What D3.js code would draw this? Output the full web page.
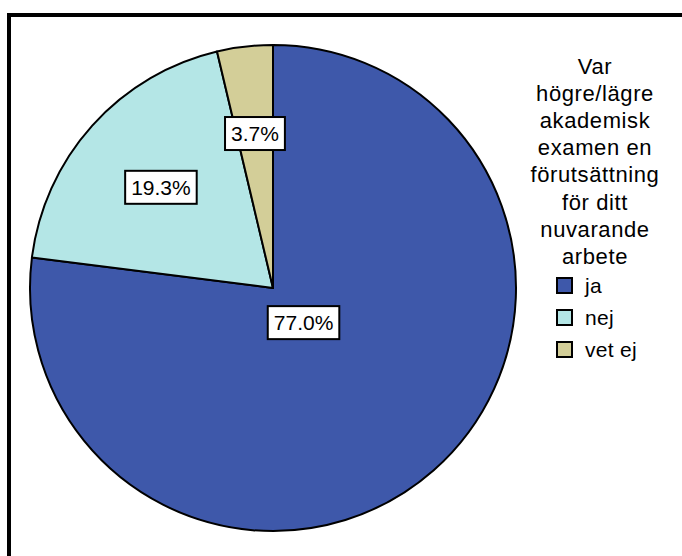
<!DOCTYPE html>
<html>
<head>
<meta charset="utf-8">
<script src="https://cdn.jsdelivr.net/npm/d3@7"></script>
<style>
  body { margin: 0; background: #fff; }
  text { font-family: "Liberation Sans", Arial, sans-serif; fill: #000; }
</style>
</head>
<body>
<div id="chart"></div>
<script>
// Data
var categories = ["ja", "nej", "vet ej"];
var percents = [77.0, 19.3, 3.7];
var colors = ["#3e58aa", "#b4e6e6", "#d3ce98"];
var legendTitle = ["Var", "högre/lägre", "akademisk", "examen en", "förutsättning", "för ditt", "nuvarande", "arbete"];

// Canvas
var svgWidth = 682;
var svgHeight = 556;
var svg = d3.select("#chart").append("svg").attr("width", svgWidth).attr("height", svgHeight);

// Frame (only top and left show in the window)
svg.append("rect")
    .attr("x", 9).attr("y", 15)
    .attr("width", 800).attr("height", 800)
    .attr("fill", "none").attr("stroke", "#000").attr("stroke-width", 4);

// Pie
var cx = 273, cy = 288, radius = 243;
var labelRadius = [0.19, 0.62, 0.64];

var pie = d3.pie().sort(null).value(function(d) { return d; });
var arc = d3.arc().innerRadius(0).outerRadius(radius);
var arcs = pie(percents);

var pieGroup = svg.append("g").attr("transform", `translate(${cx}, ${cy})`);

pieGroup.selectAll("path")
    .data(arcs)
    .enter().append("path")
    .attr("d", arc)
    .attr("fill", function(d, i) { return colors[i]; })
    .attr("stroke", "#000")
    .attr("stroke-width", 2)
    .attr("stroke-linejoin", "round");

// Percent labels in boxes
var labels = pieGroup.selectAll(".lbl")
    .data(arcs)
    .enter().append("g")
    .attr("class", "lbl")
    .attr("transform", function(d, i) {
        var a = (d.startAngle + d.endAngle) / 2;
        var r = radius * labelRadius[i];
        return `translate(${r * Math.sin(a)}, ${-r * Math.cos(a)})`;
    });

labels.append("text")
    .attr("text-anchor", "middle")
    .attr("y", 7.5)
    .style("font-size", "21px")
    .text(function(d) { return d.data.toFixed(1) + "%"; });

labels.each(function() {
    var g = d3.select(this);
    var bb = g.select("text").node().getBBox();
    g.insert("rect", "text")
        .attr("x", bb.x - 6)
        .attr("y", -16.5)
        .attr("width", bb.width + 12)
        .attr("height", 33)
        .attr("fill", "#fff")
        .attr("stroke", "#000")
        .attr("stroke-width", 2);
});

// Legend
var legendX = 595;
var legend = svg.append("g");

legend.selectAll(".title")
    .data(legendTitle)
    .enter().append("text")
    .attr("class", "title")
    .attr("x", legendX)
    .attr("y", function(d, i) { return 73.5 + i * 27.2; })
    .attr("text-anchor", "middle")
    .style("font-size", "22px")
    .style("letter-spacing", "0.6px")
    .text(function(d) { return d; });

var items = legend.selectAll(".item")
    .data(categories)
    .enter().append("g")
    .attr("class", "item")
    .attr("transform", function(d, i) { return `translate(557, ${278 + i * 32})`; });

items.append("rect")
    .attr("width", 15).attr("height", 15)
    .attr("fill", function(d, i) { return colors[i]; })
    .attr("stroke", "#000")
    .attr("stroke-width", 2);

items.append("text")
    .attr("x", 28)
    .attr("y", 15)
    .style("font-size", "21px")
    .style("letter-spacing", "0.3px")
    .text(function(d) { return d; });
</script>
</body>
</html>
